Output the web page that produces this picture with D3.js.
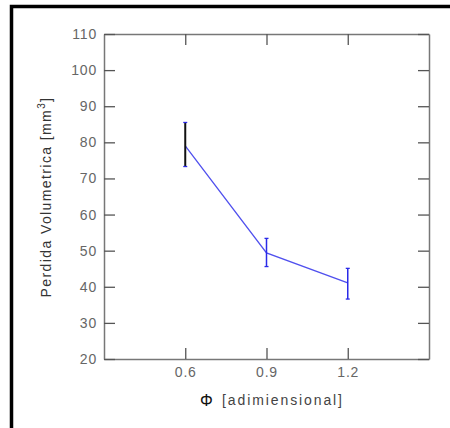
<!DOCTYPE html>
<html><head><meta charset="utf-8">
<script src="https://cdn.jsdelivr.net/npm/d3@7"></script>
<style>body{margin:0;background:#fff}svg{display:block}</style>
</head><body>
<svg id="c" width="450" height="428"></svg>
<script>
const phi = [0.6, 0.9, 1.2];
const perdida = [79, 49.4, 41.1];
const errLow = [73.3, 45.6, 36.6];
const errHigh = [85.5, 53.4, 45.1];
const errColors = ["#111111", "#2a2ae8", "#2a2ae8"];
const xTicks = [0.6, 0.9, 1.2];
const xTickLabels = ["0.6", "0.9", "1.2"];
const yTicks = [20, 30, 40, 50, 60, 70, 80, 90, 100, 110];

const svg = d3.select("#c");
const L = 104, R = 429, T = 34, B = 359;
const x = d3.scaleLinear().domain([0.3, 1.5]).range([L, R]);
const y = d3.scaleLinear().domain([20, 110]).range([B, T]);

// outer frame (top and left edges visible)
svg.append("rect").attr("x", 11.5).attr("y", 6.5).attr("width", 500).attr("height", 500)
  .attr("fill", "none").attr("stroke", "#000").attr("stroke-width", 3.5);

const axColor = "#777";
const font = "Liberation Sans, Arial, sans-serif";

// axes
const gB = svg.append("g").attr("transform", `translate(0,${B})`)
  .call(d3.axisBottom(x).tickValues(xTicks).tickFormat((d,i)=>xTickLabels[i]).tickSizeInner(-11).tickSizeOuter(0).tickPadding(8));
const gT = svg.append("g").attr("transform", `translate(0,${T})`)
  .call(d3.axisTop(x).tickValues(xTicks).tickFormat("").tickSizeInner(-11).tickSizeOuter(0));
const gL = svg.append("g").attr("transform", `translate(${L},0)`)
  .call(d3.axisLeft(y).tickValues(yTicks).tickSizeInner(-11).tickSizeOuter(0).tickPadding(7));
const gR = svg.append("g").attr("transform", `translate(${R},0)`)
  .call(d3.axisRight(y).tickValues(yTicks).tickFormat("").tickSizeInner(-11).tickSizeOuter(0));
[gB, gT, gL, gR].forEach(g => {
  g.select(".domain").attr("stroke", axColor).attr("stroke-width", 1.5);
  g.selectAll(".tick line").attr("stroke", "#555").attr("stroke-width", 1.3);
  g.selectAll(".tick text").attr("fill", "#666").attr("font-family", font).attr("font-size", 14)
    .attr("letter-spacing", "0.8px");
});

// line
svg.append("path").datum(phi.map((p,i)=>[p, perdida[i]]))
  .attr("fill", "none").attr("stroke", "#5050ee").attr("stroke-width", 1.3)
  .attr("d", d3.line().x(d=>x(d[0])).y(d=>y(d[1])));

// error bars
const eb = svg.append("g");
phi.forEach((p, i) => {
  const g = eb.append("g").attr("stroke", errColors[i]);
  g.append("line").attr("x1", x(p)).attr("x2", x(p)).attr("y1", y(errLow[i])).attr("y2", y(errHigh[i]))
    .attr("stroke-width", i === 0 ? 2 : 1.5);
  [errLow[i], errHigh[i]].forEach(v => {
    g.append("line").attr("x1", x(p)-2).attr("x2", x(p)+2).attr("y1", y(v)).attr("y2", y(v))
      .attr("stroke", "#2a2ae8").attr("stroke-width", 1.3);
  });
});

// labels
svg.append("text").attr("transform", `translate(51,197) rotate(-90)`)
  .attr("text-anchor", "middle").attr("font-family", font).attr("font-size", 14).attr("fill", "#333")
  .attr("letter-spacing", "1.4px")
  .html('Perdida Volumetrica [mm<tspan dy="-6" font-size="10">3</tspan><tspan dy="6">]</tspan>');
svg.append("text").attr("x", 200).attr("y", 406)
  .attr("font-family", font).attr("font-size", 16).attr("fill", "#111").text("Φ");
svg.append("text").attr("x", 222).attr("y", 405)
  .attr("font-family", font).attr("font-size", 14).attr("fill", "#444")
  .attr("textLength", 120).attr("lengthAdjust", "spacing").text("[adimiensional]");
</script>
</body></html>
